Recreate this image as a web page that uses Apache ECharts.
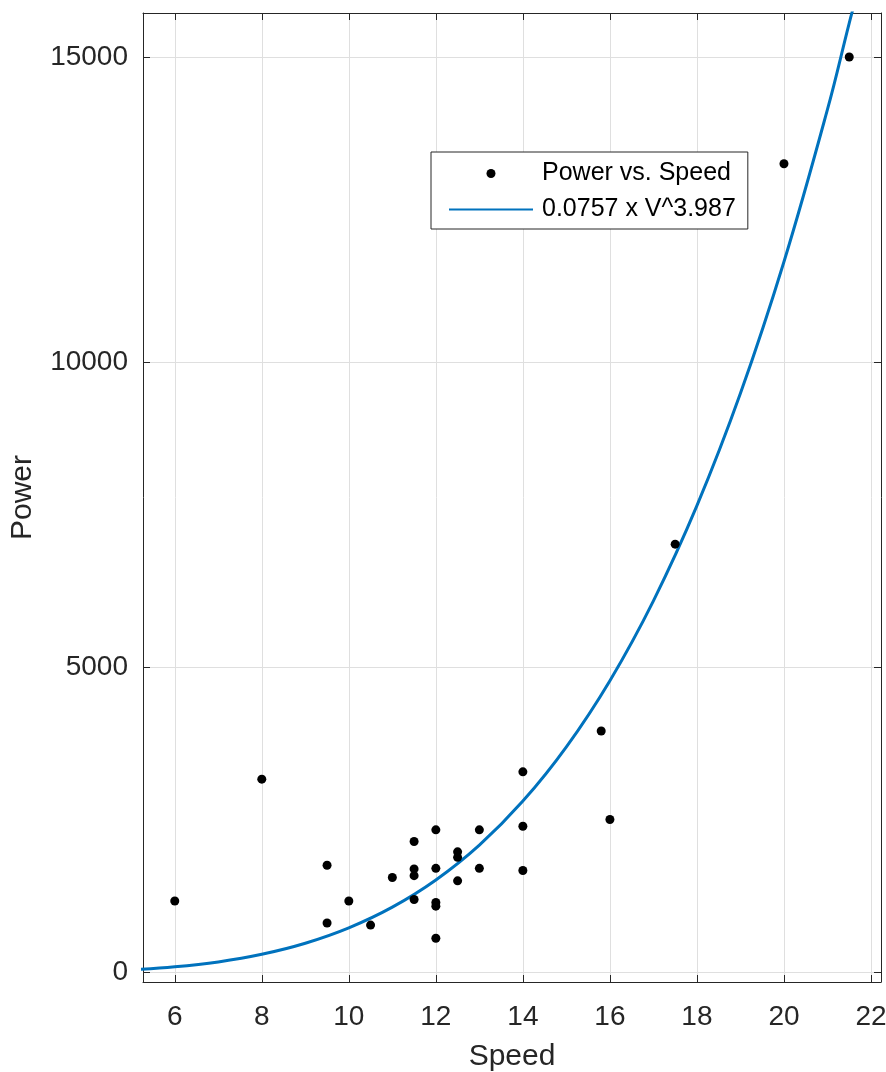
<!DOCTYPE html>
<html>
<head>
<meta charset="utf-8">
<script src="https://cdn.jsdelivr.net/npm/echarts@6/dist/echarts.min.js"></script>
<style>
  html, body { margin: 0; padding: 0; background: #fff; }
  #chart { width: 886px; height: 1072px; }
</style>
</head>
<body>
<div id="chart"></div>
<script>
// Measured data: Power vs. Speed
const speed = [6, 8, 9.5, 9.5, 10, 10.5, 11, 11.5, 11.5, 11.5, 11.5, 12, 12, 12, 12, 12,
               12.5, 12.5, 12.5, 13, 13, 14, 14, 14, 15.8, 16, 17.5, 20, 21.5];
const power = [1175, 3170, 1760, 815, 1175, 780, 1560, 2150, 1700, 1590, 1200, 2340, 1710, 1150, 1090, 565,
               1980, 1890, 1505, 2340, 1710, 3290, 2400, 1675, 3960, 2510, 7020, 13250, 15000];

// Fitted curve
const fitSpeed = [5, 6, 7, 8, 9, 10, 11, 12, 13, 14, 15, 16, 17, 18, 19, 20, 21, 21.5, 21.6];
const fitPower = [46, 96, 177, 302, 483, 735, 1074, 1519, 2090, 2811, 3700, 4784, 6092, 7650, 9490, 11646, 14141, 15556, 15823];

const xTicks = [6, 8, 10, 12, 14, 16, 18, 20, 22];
const yTicks = [0, 5000, 10000, 15000];

const seriesNames = ['Power vs. Speed', '0.0757 x V^3.987'];
const axisTitles = { x: 'Speed', y: 'Power' };

const FONT = "'Liberation Sans', Arial, Helvetica, sans-serif";
const AX = '#262626';
const GRID = '#dfdfdf';

const xMin = 5.27, xMax = 22.23, yMin = -152, yMax = 15720;

const chart = echarts.init(document.getElementById('chart'), null, { renderer: 'canvas' });

function xAxisBase(extra) {
  return Object.assign({
    type: 'value', min: xMin, max: xMax, minInterval: 2, maxInterval: 2, splitNumber: 8,
    axisLine: { show: true, onZero: false, lineStyle: { color: AX, width: 1 } },
    axisTick: { show: true, inside: true, length: 7, lineStyle: { color: AX, width: 1 } },
    splitLine: { show: false },
    axisLabel: { show: false }
  }, extra);
}
function yAxisBase(extra) {
  return Object.assign({
    type: 'value', min: yMin, max: yMax, minInterval: 5000, maxInterval: 5000, splitNumber: 3,
    axisLine: { show: true, onZero: false, lineStyle: { color: AX, width: 1 } },
    axisTick: { show: true, inside: true, length: 7, lineStyle: { color: AX, width: 1 } },
    splitLine: { show: false },
    axisLabel: { show: false }
  }, extra);
}

const option = {
  animation: false,
  backgroundColor: '#ffffff',
  textStyle: { fontFamily: FONT },
  grid: { left: 143, right: 5, top: 13, bottom: 90, containLabel: false, outerBoundsMode: 'none' },
  xAxis: [
    xAxisBase({
      position: 'bottom',
      name: axisTitles.x, nameLocation: 'middle', nameGap: 60,
      nameTextStyle: { fontSize: 30, color: AX, fontFamily: FONT },
      splitLine: { show: true, lineStyle: { color: GRID, width: 1 } },
      axisLabel: {
        show: true, fontSize: 28, color: AX, fontFamily: FONT, margin: 21,
        showMinLabel: false, showMaxLabel: false,
        formatter: v => (xTicks.indexOf(v) >= 0 ? String(v) : '')
      }
    }),
    xAxisBase({ position: 'top' })
  ],
  yAxis: [
    yAxisBase({
      position: 'left',
      name: axisTitles.y, nameLocation: 'middle', nameGap: 105, nameRotate: 90,
      nameTextStyle: { fontSize: 30, color: AX, fontFamily: FONT },
      splitLine: { show: true, lineStyle: { color: GRID, width: 1 } },
      axisLabel: {
        show: true, fontSize: 28, color: AX, fontFamily: FONT, margin: 15,
        showMinLabel: false, showMaxLabel: false,
        formatter: v => (yTicks.indexOf(v) >= 0 ? String(v) : '')
      }
    }),
    yAxisBase({ position: 'right' })
  ],
  legend: {
    orient: 'vertical',
    left: 431, top: 152,
    padding: [7, 12, 5, 17],
    itemWidth: 84, itemHeight: 9, itemGap: 7,
    backgroundColor: '#ffffff',
    borderColor: AX, borderWidth: 1, borderRadius: 0,
    textStyle: { fontSize: 25, color: '#000', fontFamily: FONT, lineHeight: 29, padding: [0, 0, 0, 4] },
    data: [
      { name: seriesNames[0] },
      { name: seriesNames[1], itemStyle: { opacity: 0 } }
    ]
  },
  series: [
    {
      name: seriesNames[0],
      type: 'scatter',
      xAxisIndex: 0, yAxisIndex: 0,
      symbol: 'circle', symbolSize: 9,
      itemStyle: { color: '#000000', opacity: 1 },
      data: speed.map((s, i) => [s, power[i]]),
      z: 3
    },
    {
      name: seriesNames[1],
      type: 'line',
      xAxisIndex: 0, yAxisIndex: 0,
      symbol: 'none', showSymbol: false,
      smooth: 0.4,
      clip: true,
      lineStyle: { color: '#0072BD', width: 3 },
      itemStyle: { color: '#0072BD' },
      data: fitSpeed.map((s, i) => [s, fitPower[i]]),
      z: 2
    }
  ]
};
chart.setOption(option);
</script>
</body>
</html>
